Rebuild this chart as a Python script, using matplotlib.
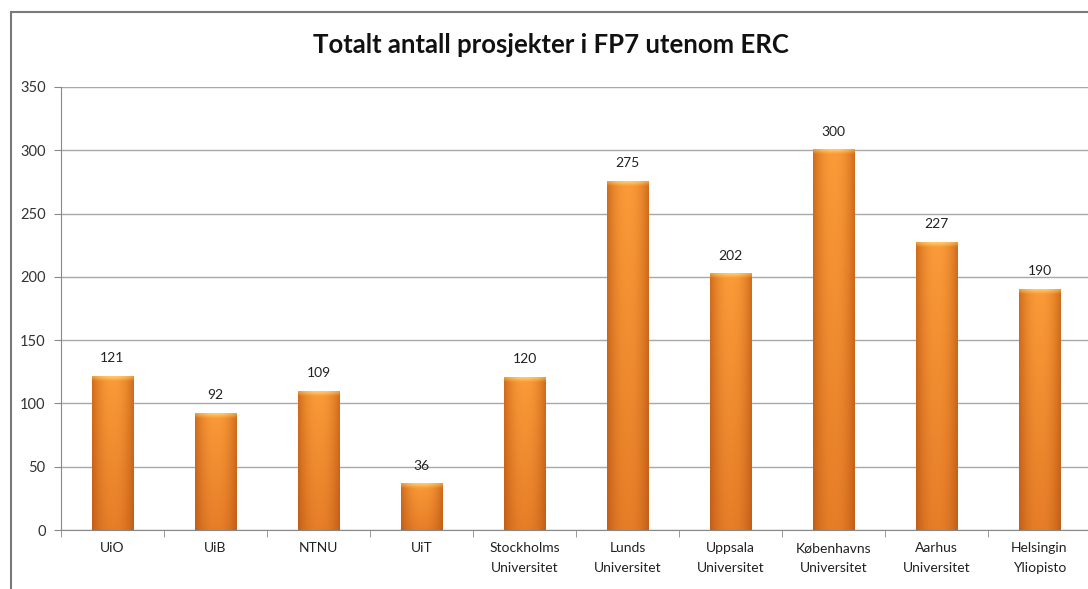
import numpy as np
import matplotlib.pyplot as plt
from matplotlib.patches import Rectangle
from matplotlib.colors import to_rgb

# Data
universities = ["UiO", "UiB", "NTNU", "UiT", "Stockholms\nUniversitet",
                "Lunds\nUniversitet", "Uppsala\nUniversitet", "Københavns\nUniversitet",
                "Aarhus\nUniversitet", "Helsingin\nYliopisto"]
projects = [121, 92, 109, 36, 120, 275, 202, 300, 227, 190]
y_ticks = [0, 50, 100, 150, 200, 250, 300, 350]

plt.rcParams['font.family'] = ['Lato', 'DejaVu Sans']

fig = plt.figure(figsize=(10.88, 5.89), dpi=100)
ax = fig.add_axes([61 / 1088, 1 - 530 / 589, 1030 / 1088, 443 / 589])

x = np.arange(len(universities))
bars = ax.bar(x, projects, width=0.4, color="#F08A28", edgecolor="#B85E18",
              linewidth=0.6, zorder=2)


# cylinder-ish shading like the Excel bars
def shade(c_edge, c_mid, n=64):
    t = np.linspace(-1, 1, n)
    w = 1 - np.abs(t) ** 2.2
    a = np.array(to_rgb(c_edge))
    b = np.array(to_rgb(c_mid))
    return a[None, :] * (1 - w[:, None]) + b[None, :] * w[:, None]


body_top = shade("#D06C1C", "#FA9A38")
body_bot = shade("#C25E18", "#E67E28")
v = np.linspace(0, 1, 40)[:, None, None]
body = body_top[None, :, :] * (1 - v) + body_bot[None, :, :] * v
cap_top = shade("#E89A3C", "#FFC866")
cap = np.stack([cap_top, cap_top * 0.5 + body_top * 0.5, body_top])

for b in bars:
    x0, w, h = b.get_x(), b.get_width(), b.get_height()
    im = ax.imshow(body, extent=(x0, x0 + w, 0, h), aspect="auto",
                   zorder=2.5, interpolation="bilinear")
    im.set_clip_path(b)
    ax.imshow(cap, extent=(x0, x0 + w, h - 4, h), aspect="auto",
              zorder=2.6, interpolation="bilinear")
    ax.text(x0 + w / 2, h + 10, str(int(h)), ha="center", va="bottom",
            fontsize=10, color="#222222", zorder=3)

ax.set_xlim(-0.5, len(universities) - 0.5)
ax.set_ylim(0, 350)
ax.set_yticks(y_ticks)
ax.set_yticklabels([str(t) for t in y_ticks], fontsize=10.5, color="#333333")
ax.set_xticks(x)
ax.set_xticklabels(universities, fontsize=10, color="#222222", linespacing=1.7)
ax.tick_params(axis="x", length=0, pad=9)
ax.tick_params(axis="y", length=5, color="#888888", pad=6)
ax.set_xticks(np.arange(len(universities) + 1) - 0.5, minor=True)
ax.tick_params(axis="x", which="minor", length=5, color="#888888")

ax.grid(axis="y", color="#A8A8A8", linewidth=1.0, zorder=0)
ax.set_axisbelow(True)
for s in ["top", "right"]:
    ax.spines[s].set_visible(False)
for s in ["left", "bottom"]:
    ax.spines[s].set_color("#888888")

fig.text(551 / 1088, 1 - 45 / 589, "Totalt antall prosjekter i FP7 utenom ERC",
         ha="center", va="center", fontsize=18.5, fontweight="bold", color="#111111")

# chart frame (cut off at right and bottom in the reference)
fig.patches.append(Rectangle((11 / 1088, -0.1), 1.2, 1.1 - 12 / 589,
                             transform=fig.transFigure, fill=False,
                             edgecolor="#7A7A7A", linewidth=1.5))

fig.savefig("out.png", dpi=100)
